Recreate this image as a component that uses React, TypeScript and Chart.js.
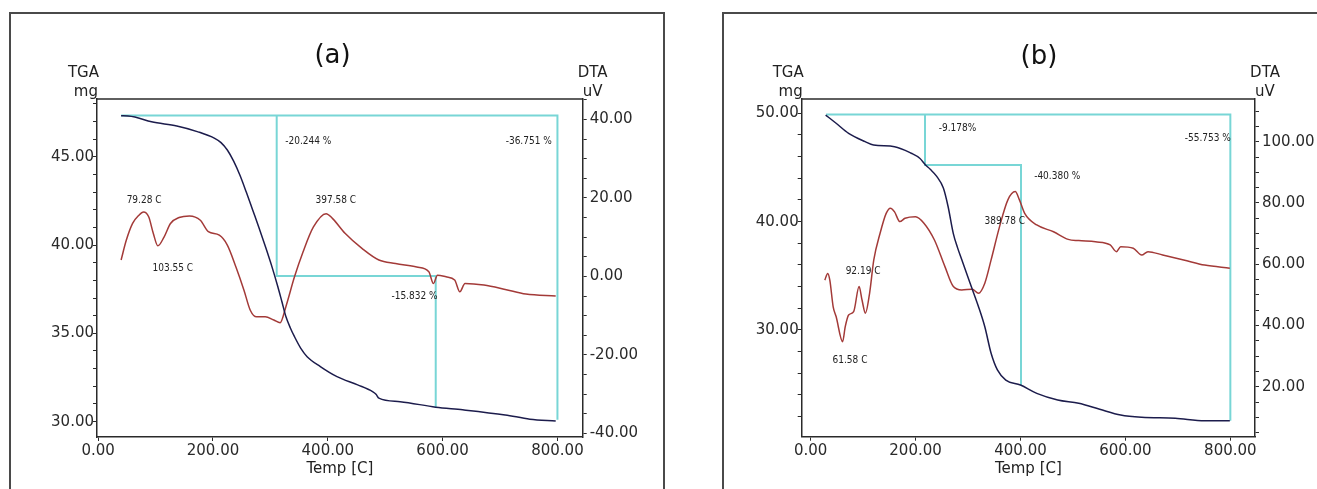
import React, { useEffect, useRef } from 'react';
import { Chart, registerables } from 'chart.js';

Chart.register(...registerables);

// ---------- Panel (a) data ----------
const TGA_A_TEMP = [40, 52, 64, 93, 137, 174, 203, 214, 225, 236, 247, 258, 269, 280, 291, 302, 313, 320, 327, 335, 342, 353, 364, 387, 416, 452, 478, 484, 489, 526, 588, 635, 709, 752, 797];
const TGA_A_MASS = [47.32, 47.31, 47.25, 46.98, 46.74, 46.41, 46.04, 45.8, 45.38, 44.75, 43.95, 43.0, 42.0, 41.0, 39.95, 38.85, 37.64, 36.8, 35.95, 35.29, 34.81, 34.15, 33.68, 33.12, 32.55, 32.08, 31.7, 31.55, 31.33, 31.13, 30.82, 30.67, 30.38, 30.14, 30.04];

const DTA_A_TEMP = [40, 49, 60, 71, 79, 88, 96, 104, 115, 126, 141, 159, 178, 192, 211, 225, 240, 254, 265, 276, 291, 306, 317, 327, 342, 357, 375, 397, 408, 430, 460, 489, 518, 555, 576, 584, 591, 606, 621, 630, 639, 672, 709, 745, 797];
const DTA_A_UV = [4.2, 9.2, 13.5, 15.6, 16.4, 15.2, 11.0, 7.8, 10.1, 13.5, 15.0, 15.4, 14.3, 11.4, 10.5, 8.0, 2.4, -3.5, -8.6, -10.3, -10.3, -11.1, -11.8, -7.7, -0.1, 6.3, 12.6, 16.0, 14.8, 11.0, 7.1, 4.2, 3.3, 2.4, 1.2, -1.8, 0.3, -0.1, -0.9, -3.9, -1.8, -2.2, -3.3, -4.5, -5.0];

const STEP_A1_TEMP = [40, 800, 800];
const STEP_A1_MASS = [47.33, 47.33, 30.1];
const STEP_A2_TEMP = [311, 311, 588, 588];
const STEP_A2_MASS = [47.33, 38.25, 38.25, 30.82];

const NOTES_A_TEXT = ['79.28 C', '103.55 C', '397.58 C', '-20.244 %', '-36.751 %', '-15.832 %'];
const NOTES_A_TEMP = [80, 130, 414, 366, 750, 551];
const NOTES_A_MASS = [42.55, 38.7, 42.55, 45.85, 45.85, 37.1];

// ---------- Panel (b) data ----------
const TGA_B_TEMP = [28.6, 48.6, 72.4, 104, 120, 160, 192, 208, 219, 228, 240, 253, 262, 272, 280, 288, 304, 320, 332, 344, 356, 372, 400, 431, 471, 511, 551, 591, 631, 695, 751, 799];
const TGA_B_MASS = [49.84, 49.08, 48.15, 47.38, 47.07, 46.92, 46.31, 45.85, 45.23, 44.83, 44.2, 43.1, 41.4, 38.9, 37.6, 36.5, 34.31, 32.15, 30.3, 27.85, 26.31, 25.38, 24.92, 24.15, 23.54, 23.23, 22.68, 22.15, 21.94, 21.85, 21.63, 21.63];

const DTA_B_TEMP = [27, 32.6, 36.6, 43, 48.6, 61, 66, 72.4, 82, 92.4, 98, 104.4, 112.4, 120.4, 132.4, 144, 152, 160, 170, 180, 200, 216, 236, 256, 272, 288, 308, 320, 332, 344, 360, 376, 390, 398, 408, 431, 463, 491, 511, 543, 571, 583, 591, 615, 631, 643, 671, 711, 751, 799];
const DTA_B_UV = [54.8, 57.0, 54.8, 46.1, 42.9, 34.7, 39.6, 43.4, 44.5, 52.7, 48.3, 44.0, 50.5, 61.4, 70.1, 76.6, 78.3, 77.1, 73.9, 75.0, 75.5, 73.4, 67.9, 59.2, 52.7, 51.6, 51.8, 50.5, 53.8, 61.4, 72.2, 81.0, 83.7, 81.0, 76.6, 72.8, 70.6, 68.1, 67.7, 67.3, 66.3, 64.1, 65.7, 65.2, 63.0, 64.1, 63.0, 61.4, 59.7, 58.7];

const STEP_B1_TEMP = [29.5, 800, 800];
const STEP_B1_MASS = [49.9, 49.9, 21.63];
const STEP_B2_TEMP = [218, 218, 401, 401];
const STEP_B2_MASS = [49.9, 45.23, 45.23, 24.92];

const NOTES_B_TEXT = ['-9.178%', '-55.753 %', '-40.380 %', '389.78 C', '92.19 C', '61.58 C'];
const NOTES_B_TEMP = [280, 757, 470, 370, 100, 75];
const NOTES_B_MASS = [48.62, 47.7, 44.15, 40.0, 35.38, 27.23];

const X_TITLE = 'Temp [C]';
const LEFT_TITLE = ['TGA', 'mg'];
const RIGHT_TITLE = ['DTA', 'uV'];

const pts = (xs: number[], ys: number[]) => xs.map((x, i) => ({ x, y: ys[i] }));

const NAVY = '#1c1c4c';
const RED = '#a33a38';
const CYAN = '#78d6d6';
const AXIS = '#2a2a2a';
const FONT = '"DejaVu Sans", "Liberation Sans", sans-serif';

interface PanelSpec {
  title: string;
  width: number;
  height: number;
  leftW: number;
  rightW: number;
  topPad: number;
  xH: number;
  titleX: number;
  titleY: number;
  xRange: [number, number];
  yRange: [number, number];
  yStep: number;
  yMajor: number;
  y2Range: [number, number];
  y2Step: number;
  y2Major: number;
  tga: { x: number; y: number }[];
  dta: { x: number; y: number }[];
  steps: { x: number; y: number }[][];
  notes: { text: string; t: number; m: number }[];
}

function Panel({ spec }: { spec: PanelSpec }) {
  const ref = useRef<HTMLCanvasElement>(null);
  useEffect(() => {
    const canvas = ref.current;
    if (!canvas) return;
    const decor = {
      id: 'decor',
      afterDraw(chart: any) {
        const { ctx, chartArea: ca, scales } = chart;
        ctx.save();
        ctx.strokeStyle = AXIS;
        ctx.lineWidth = 1.5;
        ctx.beginPath();
        ctx.moveTo(ca.left, ca.top);
        ctx.lineTo(ca.right, ca.top);
        ctx.stroke();
        ctx.fillStyle = '#111';
        ctx.font = `26px ${FONT}`;
        ctx.textAlign = 'center';
        ctx.textBaseline = 'middle';
        ctx.fillText(spec.title, spec.titleX, spec.titleY);
        ctx.font = `15px ${FONT}`;
        ctx.fillStyle = '#222';
        ctx.textBaseline = 'alphabetic';
        ctx.textAlign = 'right';
        ctx.fillText(LEFT_TITLE[0], ca.left + 2, ca.top - 22);
        ctx.fillText(LEFT_TITLE[1], ca.left + 1, ca.top - 3);
        ctx.textAlign = 'center';
        ctx.fillText(RIGHT_TITLE[0], ca.right + 10, ca.top - 22);
        ctx.fillText(RIGHT_TITLE[1], ca.right + 10, ca.top - 3);
        ctx.font = `10px "DejaVu Sans Condensed", "Liberation Sans Narrow", "Liberation Sans", sans-serif`;
        ctx.fillStyle = '#222';
        ctx.textBaseline = 'middle';
        spec.notes.forEach((n) => {
          ctx.fillText(n.text, scales.x.getPixelForValue(n.t), scales.y.getPixelForValue(n.m));
        });
        ctx.restore();
      },
    };
    const tickFont = { family: FONT, size: 15 };
    const axisGrid = { display: true, drawOnChartArea: false, drawTicks: true, tickLength: 4, color: AXIS, lineWidth: 1 };
    const axisBorder = { display: true, color: AXIS, width: 1.5 };
    const isMult = (v: number, m: number) => Math.abs(v / m - Math.round(v / m)) < 1e-6;
    const datasets: any[] = [
      { label: 'TGA', data: spec.tga, yAxisID: 'y', borderColor: NAVY, borderWidth: 1.5, showLine: true, pointRadius: 0, cubicInterpolationMode: 'monotone', order: 0 },
      { label: 'DTA', data: spec.dta, yAxisID: 'y2', borderColor: RED, borderWidth: 1.5, showLine: true, pointRadius: 0, cubicInterpolationMode: 'monotone', order: 1 },
      ...spec.steps.map((s, i) => ({ label: 'step' + i, data: s, yAxisID: 'y', borderColor: CYAN, borderWidth: 2, showLine: true, pointRadius: 0, tension: 0, order: 2 })),
    ];
    const chart = new Chart(canvas, {
      type: 'scatter',
      data: { datasets },
      options: {
        animation: false,
        responsive: false,
        maintainAspectRatio: false,
        devicePixelRatio: 1,
        layout: { padding: { top: spec.topPad, left: 0, right: 0, bottom: 0 } },
        plugins: { legend: { display: false }, tooltip: { enabled: false }, title: { display: false } },
        scales: {
          x: {
            type: 'linear',
            position: 'bottom',
            min: spec.xRange[0],
            max: spec.xRange[1],
            grid: axisGrid,
            border: axisBorder,
            ticks: { stepSize: 200, autoSkip: false, maxRotation: 0, includeBounds: false, padding: 1, color: '#2a2a2a', font: tickFont, callback: (v: any) => Number(v).toFixed(2) },
            title: { display: true, text: X_TITLE, color: '#222', font: { family: FONT, size: 15 }, padding: { top: 0, bottom: 11 } },
            afterFit: (s: any) => { s.height = spec.xH; },
          },
          y: {
            type: 'linear',
            position: 'left',
            min: spec.yRange[0],
            max: spec.yRange[1],
            grid: axisGrid,
            border: axisBorder,
            ticks: { stepSize: spec.yStep, autoSkip: false, includeBounds: false, padding: -1, color: '#2a2a2a', font: tickFont, callback: (v: any) => (isMult(Number(v), spec.yMajor) ? Number(v).toFixed(2) : '') },
            afterFit: (s: any) => { s.width = spec.leftW; },
          },
          y2: {
            type: 'linear',
            position: 'right',
            min: spec.y2Range[0],
            max: spec.y2Range[1],
            grid: axisGrid,
            border: axisBorder,
            ticks: { stepSize: spec.y2Step, autoSkip: false, includeBounds: false, padding: 3, color: '#2a2a2a', font: tickFont, callback: (v: any) => (isMult(Number(v), spec.y2Major) ? Number(v).toFixed(2) : '') },
            afterFit: (s: any) => { s.width = spec.rightW; },
          },
        },
      } as any,
      plugins: [decor],
    });
    return () => chart.destroy();
  }, [spec]);
  return <canvas ref={ref} width={spec.width} height={spec.height} style={{ position: 'absolute', left: 0, top: 0, width: spec.width, height: spec.height }} />;
}

const SPEC_A: PanelSpec = {
  title: '(a)',
  width: 652,
  height: 475,
  leftW: 86,
  rightW: 80.3,
  topPad: 85,
  xH: 52,
  titleX: 321.5,
  titleY: 42,
  xRange: [-2, 844],
  yRange: [29.13, 48.27],
  yStep: 1,
  yMajor: 5,
  y2Range: [-40.9, 45.2],
  y2Step: 5,
  y2Major: 20,
  tga: pts(TGA_A_TEMP, TGA_A_MASS),
  dta: pts(DTA_A_TEMP, DTA_A_UV),
  steps: [pts(STEP_A1_TEMP, STEP_A1_MASS), pts(STEP_A2_TEMP, STEP_A2_MASS)],
  notes: NOTES_A_TEXT.map((text, i) => ({ text, t: NOTES_A_TEMP[i], m: NOTES_A_MASS[i] })),
};

const SPEC_B: PanelSpec = {
  title: '(b)',
  width: 593,
  height: 475,
  leftW: 77.7,
  rightW: 62,
  topPad: 85,
  xH: 52.3,
  titleX: 315,
  titleY: 43,
  xRange: [-17, 847],
  yRange: [20.15, 51.32],
  yStep: 2,
  yMajor: 10,
  y2Range: [3.67, 113.94],
  y2Step: 5,
  y2Major: 20,
  tga: pts(TGA_B_TEMP, TGA_B_MASS),
  dta: pts(DTA_B_TEMP, DTA_B_UV),
  steps: [pts(STEP_B1_TEMP, STEP_B1_MASS), pts(STEP_B2_TEMP, STEP_B2_MASS)],
  notes: NOTES_B_TEXT.map((text, i) => ({ text, t: NOTES_B_TEMP[i], m: NOTES_B_MASS[i] })),
};

export default function App() {
  return (
    <div style={{ position: 'fixed', left: 0, top: 0, width: 1317, height: 489, overflow: 'hidden', background: '#fff' }}>
      <div style={{ position: 'absolute', left: 9, top: 12, width: 656, height: 540, border: '2px solid #4a4a4a', boxSizing: 'border-box' }}>
        <Panel spec={SPEC_A} />
      </div>
      <div style={{ position: 'absolute', left: 722, top: 12, width: 700, height: 540, border: '2px solid #4a4a4a', boxSizing: 'border-box' }}>
        <Panel spec={SPEC_B} />
      </div>
    </div>
  );
}
